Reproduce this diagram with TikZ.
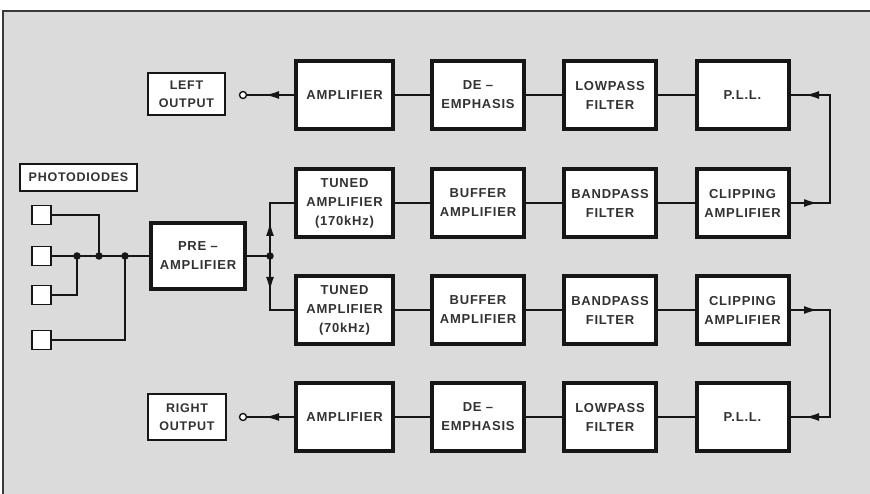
\documentclass[tikz,border=0pt]{standalone}
\usepackage{fontspec}
\setmainfont{Liberation Sans}[LetterSpace=6]
\usetikzlibrary{arrows.meta}
\definecolor{bg}{RGB}{219,219,219}
\definecolor{ink}{RGB}{22,22,22}
\definecolor{txt}{RGB}{50,50,50}
\tikzset{
 blk/.style={draw=ink, line width=4pt, fill=white, minimum width=92pt, minimum height=68pt,
   align=center, inner sep=1pt, text=txt, font=\bfseries\fontsize{13}{19}\selectfont},
 wideblk/.style={blk, minimum width=97pt},
 tag/.style={draw=ink, line width=1.6pt, fill=white, align=center, inner sep=0pt,
   text=txt, font=\bfseries\fontsize{12.5}{18}\selectfont},
 sq/.style={draw=ink, line width=1.6pt, fill=white, minimum size=19pt, inner sep=0pt},
 wire/.style={draw=ink, line width=1.8pt, line join=miter},
 tip/.style={-{Latex[length=14pt,width=8pt]}},
 dot/.style={circle, fill=ink, inner sep=0pt, minimum size=7.5pt},
 jack/.style={circle, draw=ink, fill=white, line width=1.4pt, inner sep=0pt, minimum size=7pt},
}
\begin{document}
\begin{tikzpicture}[x=1pt,y=-1pt]
\useasboundingbox (0,0) rectangle (870,494);
\fill[white] (0,0) rectangle (870,494);
\draw[fill=bg, draw=ink!85, line width=1.6pt] (3,11) rectangle (880,505);

% photodiodes
\node[tag, minimum width=117pt, minimum height=27pt] (ph) at (78.5,177.5) {PHOTODIODES};
\node[sq] (d1) at (41.5,215) {};
\node[sq] (d2) at (41.5,256) {};
\node[sq] (d3) at (41.5,295) {};
\node[sq] (d4) at (41.5,340) {};

% preamp
\node[blk, minimum width=94pt, minimum height=66pt] (pre) at (198,256) {PRE –\\AMPLIFIER};

% row 1
\node[wideblk] (amp1) at (344.5,95) {AMPLIFIER};
\node[blk] (de1) at (478,95) {DE –\\EMPHASIS};
\node[blk] (lp1) at (610,95) {LOWPASS\\FILTER};
\node[blk] (pll1) at (742.5,95) {P.L.L.};
% row 2
\node[wideblk] (tun1) at (344.5,203) {TUNED\\AMPLIFIER\\(170kHz)};
\node[blk] (buf1) at (478,203) {BUFFER\\AMPLIFIER};
\node[blk] (bp1) at (610,203) {BANDPASS\\FILTER};
\node[blk] (clip1) at (742.5,203) {CLIPPING\\AMPLIFIER};
% row 3
\node[wideblk] (tun2) at (344.5,310) {TUNED\\AMPLIFIER\\(70kHz)};
\node[blk] (buf2) at (478,310) {BUFFER\\AMPLIFIER};
\node[blk] (bp2) at (610,310) {BANDPASS\\FILTER};
\node[blk] (clip2) at (742.5,310) {CLIPPING\\AMPLIFIER};
% row 4
\node[wideblk] (amp2) at (344.5,417) {AMPLIFIER};
\node[blk] (de2) at (478,417) {DE –\\EMPHASIS};
\node[blk] (lp2) at (610,417) {LOWPASS\\FILTER};
\node[blk] (pll2) at (742.5,417) {P.L.L.};

% outputs
\node[tag, minimum width=77pt, minimum height=42pt] (lo) at (186.5,94) {LEFT\\OUTPUT};
\node[tag, minimum width=78pt, minimum height=46pt] (ro) at (187,417) {RIGHT\\OUTPUT};
\node[jack] (jl) at (243,95) {};
\node[jack] (jr) at (243,417) {};

% coordinates
\coordinate (j1) at (99,256);
\coordinate (j2) at (77,256);
\coordinate (j3) at (125,256);
\coordinate (j4) at (270,256);
\coordinate (up) at (270,222);
\coordinate (dn) at (270,291);
\coordinate (tl) at (265,95);
\coordinate (tr) at (265,417);
\coordinate (c1) at (830,95);
\coordinate (c2) at (830,203);
\coordinate (c3) at (830,310);
\coordinate (c4) at (830,417);
\coordinate (a1) at (805,95);
\coordinate (a2) at (818,203);
\coordinate (a3) at (818,310);
\coordinate (a4) at (805,417);

% photodiode wiring
\draw[wire] (d1.east) -| (j1);
\draw[wire] (d2.east) -- (pre.west);
\draw[wire] (d3.east) -| (j2);
\draw[wire] (d4.east) -| (j3);
\node[dot] at (j1) {};
\node[dot] at (j2) {};
\node[dot] at (j3) {};

% preamp split
\draw[wire] (pre.east) -- (j4);
\draw[wire] (tun1.west) -| (j4) |- (tun2.west);
\draw[wire,tip] (j4) -- (up);
\draw[wire,tip] (j4) -- (dn);
\node[dot] at (j4) {};

% chains
\draw[wire] (amp1) -- (de1);
\draw[wire] (de1) -- (lp1);
\draw[wire] (lp1) -- (pll1);
\draw[wire] (tun1) -- (buf1);
\draw[wire] (buf1) -- (bp1);
\draw[wire] (bp1) -- (clip1);
\draw[wire] (tun2) -- (buf2);
\draw[wire] (buf2) -- (bp2);
\draw[wire] (bp2) -- (clip2);
\draw[wire] (amp2) -- (de2);
\draw[wire] (de2) -- (lp2);
\draw[wire] (lp2) -- (pll2);

% outputs
\draw[wire] (amp1.west) -- (jl.east);
\draw[wire,tip] (amp1.west) -- (tl);
\draw[wire] (amp2.west) -- (jr.east);
\draw[wire,tip] (amp2.west) -- (tr);

% PLL loops
\draw[wire] (clip1.east) -- (c2) -- (c1) -- (pll1.east);
\draw[wire,tip] (clip1.east) -- (a2);
\draw[wire,tip] (c1) -- (a1);
\draw[wire] (clip2.east) -- (c3) -- (c4) -- (pll2.east);
\draw[wire,tip] (clip2.east) -- (a3);
\draw[wire,tip] (c4) -- (a4);
\end{tikzpicture}
\end{document}
